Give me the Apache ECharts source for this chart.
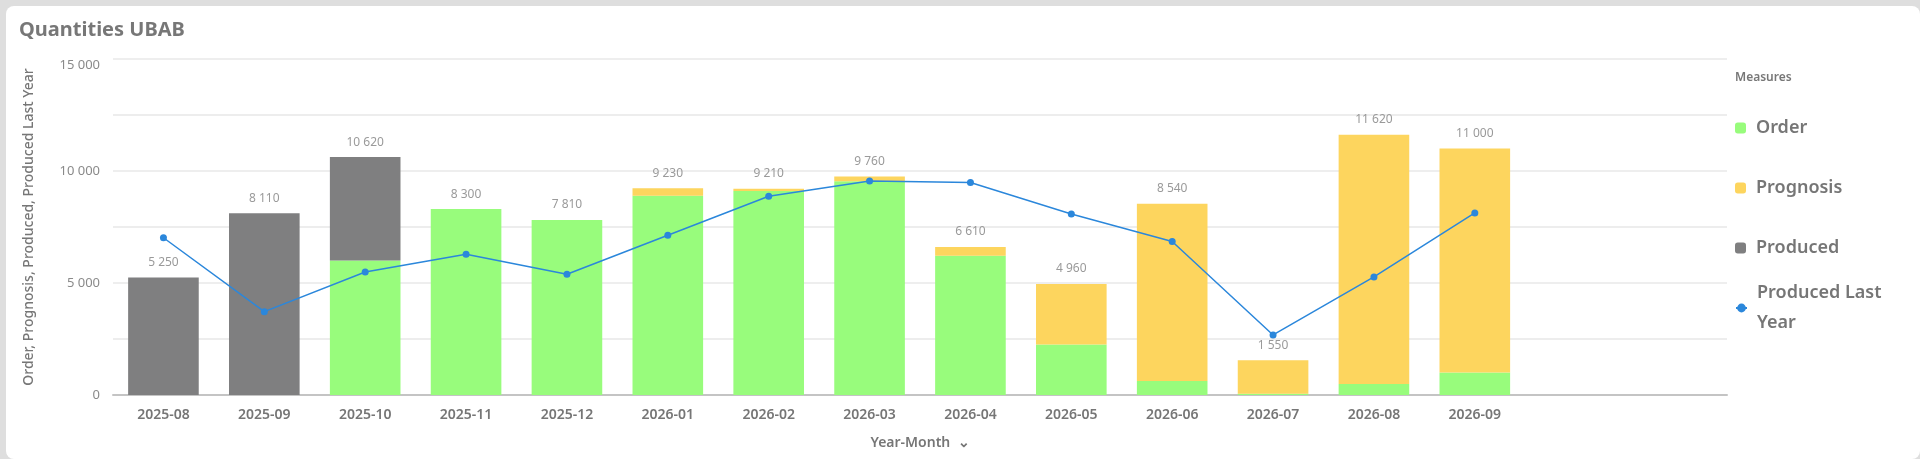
<!DOCTYPE html>
<html>
<head>
<meta charset="utf-8">
<script src="https://cdn.jsdelivr.net/npm/echarts@6/dist/echarts.min.js"></script>
<style>
  html, body { margin: 0; padding: 0; background: #dedede; }
  #chart {
    position: absolute; left: 6px; top: 6px;
    width: 1914px; height: 453px;
    background: #ffffff; border-radius: 8px;
  }
</style>
</head>
<body>
<div id="chart"></div>
<script>
// data
var months = ['2025-08', '2025-09', '2025-10', '2025-11', '2025-12', '2026-01', '2026-02',
  '2026-03', '2026-04', '2026-05', '2026-06', '2026-07', '2026-08', '2026-09', '', ' '];
var order = [0, 0, 6000, 8300, 7810, 8900, 9110, 9540, 6220, 2250, 630, 60, 490, 1010];
var prognosis = [0, 0, 0, 0, 0, 330, 100, 220, 390, 2710, 7910, 1490, 11130, 9990];
var produced = [5250, 8110, 4620, 0, 0, 0, 0, 0, 0, 0, 0, 0, 0, 0];
var producedLastYear = [7020, 3720, 5490, 6280, 5390, 7130, 8870, 9550, 9490, 8080, 6850, 2680, 5270, 8130];

var totals = order.map(function (v, i) { return v + prognosis[i] + produced[i]; });

function fmt(n) {
  return String(n).replace(/\B(?=(\d{3})+(?!\d))/g, ' ');
}

var font = 'Noto Sans';
var grey = '#767676';
var legendText = { fontSize: 18, lineHeight: 30, fontWeight: 600, color: grey, fontFamily: font, padding: [0, 0, 0, 5] };

var chart = echarts.init(document.getElementById('chart'));

var option = {
  backgroundColor: 'transparent',
  textStyle: { fontFamily: font },
  title: [
    {
      text: 'Quantities UBAB',
      left: 8,
      top: 9,
      textStyle: { fontSize: 20, fontWeight: 'bold', color: '#777777', fontFamily: font }
    },
    {
      text: 'Measures',
      left: 1724,
      top: 61,
      textStyle: { fontSize: 12, fontWeight: 600, color: '#777777', fontFamily: font }
    }
  ],
  legend: [
    {
      orient: 'vertical',
      left: 1724,
      top: 102,
      itemWidth: 11,
      itemHeight: 11,
      itemGap: 30,
      data: ['Order', 'Prognosis', 'Produced'],
      textStyle: legendText
    },
    {
      orient: 'vertical',
      left: 1724,
      top: 267,
      itemWidth: 11,
      itemHeight: 11,
      data: ['Produced Last Year'],
      formatter: function () { return 'Produced Last\nYear'; },
      textStyle: legendText
    }
  ],
  grid: {
    left: 107,
    right: 193,
    top: 53,
    bottom: 64
  },
  xAxis: {
    type: 'category',
    data: months,
    name: 'Year-Month  \u2304',
    nameLocation: 'middle',
    nameGap: 41,
    nameTextStyle: { fontSize: 14, fontWeight: 600, color: grey, fontFamily: font },
    axisTick: { show: false },
    axisLine: { lineStyle: { color: '#c4c4c4', width: 2 } },
    axisLabel: { fontSize: 14, fontWeight: 600, color: grey, margin: 13, fontFamily: font }
  },
  yAxis: {
    type: 'value',
    min: 0,
    max: 15000,
    interval: 5000,
    name: 'Order, Prognosis, Produced, Produced Last Year',
    nameLocation: 'middle',
    nameGap: 77,
    nameTextStyle: { fontSize: 14, fontWeight: 500, color: grey, fontFamily: font },
    axisLine: { show: false },
    axisTick: { show: false },
    axisLabel: {
      fontSize: 13,
      color: '#8a8a8a',
      margin: 13,
      fontFamily: font,
      verticalAlignMaxLabel: 'top',
      formatter: function (v) { return fmt(v); }
    },
    splitLine: { lineStyle: { color: '#e8e8e8', width: 1.5 } },
    minorTick: { show: false, splitNumber: 2 },
    minorSplitLine: { show: true, lineStyle: { color: '#e8e8e8', width: 1.5 } }
  },
  series: [
    {
      name: 'Order',
      type: 'bar',
      stack: 'qty',
      barCategoryGap: '30%',
      itemStyle: { color: '#98fc7c' },
      data: order
    },
    {
      name: 'Prognosis',
      type: 'bar',
      stack: 'qty',
      itemStyle: { color: '#fdd55e' },
      data: prognosis
    },
    {
      name: 'Produced',
      type: 'bar',
      stack: 'qty',
      itemStyle: { color: '#7f7f80' },
      data: produced
    },
    {
      name: 'Total',
      type: 'bar',
      stack: 'qty',
      silent: true,
      itemStyle: { color: 'transparent' },
      label: {
        show: true,
        position: 'top',
        distance: 9,
        fontSize: 12,
        color: '#9a9a9a',
        fontFamily: font,
        formatter: function (p) { return fmt(totals[p.dataIndex]); }
      },
      data: totals.map(function () { return 0; })
    },
    {
      name: 'Produced Last Year',
      type: 'line',
      z: 5,
      symbol: 'circle',
      symbolSize: 7,
      itemStyle: { color: '#2b87db' },
      lineStyle: { color: '#2b87db', width: 1.5 },
      data: producedLastYear
    }
  ]
};

chart.setOption(option);
</script>
</body>
</html>
